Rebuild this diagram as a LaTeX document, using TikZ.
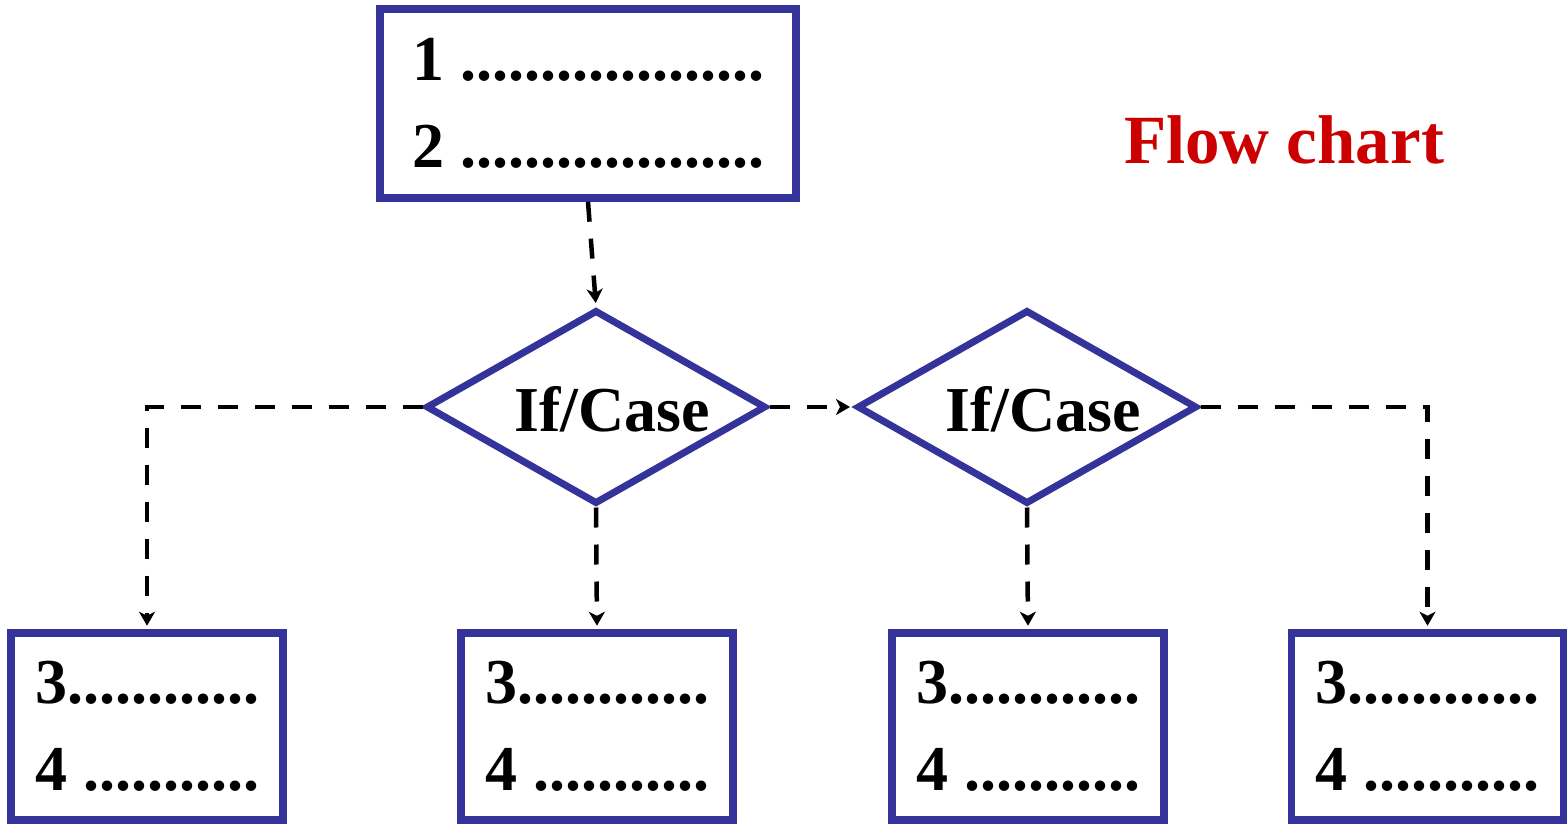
\documentclass[tikz,border=0pt]{standalone}
\usepackage{fontspec}
\setmainfont{Liberation Serif}
\usepackage{tikz}
\usetikzlibrary{arrows.meta,shapes,positioning}
\definecolor{boxblue}{RGB}{51,51,153}
\definecolor{titlered}{RGB}{204,0,0}

\begin{document}
\begin{tikzpicture}[x=0.5pt,y=-0.5pt,
    every node/.style={font=\fontsize{32}{43.5}\selectfont\bfseries},
    stepbox/.style={draw=boxblue,line width=3.75pt,rectangle,align=left,inner sep=0pt},
    testbox/.style={draw=boxblue,line width=3.5pt,diamond,inner sep=0pt,
        minimum width=170pt,minimum height=97pt}]
\useasboundingbox (0,0) rectangle (1567,824);
%draw boxes
    \node[stepbox,minimum width=208pt,minimum height=94.5pt] (top) at (588,103.5)
        {1 ...................\\2 ...................};
    \node[testbox,label={[xshift=8pt,yshift=-1pt]center:If/Case}] (d1) at (596,407) {};
    \node[testbox,label={[xshift=8pt,yshift=-1pt]center:If/Case}] (d2) at (1027,407) {};
    \node[stepbox,minimum width=136pt,minimum height=93.5pt] (b1) at (147,726.5)
        {3............\\4 ...........};
    \node[stepbox,minimum width=136pt,minimum height=93.5pt] (b2) at (597,726.5)
        {3............\\4 ...........};
    \node[stepbox,minimum width=136pt,minimum height=93.5pt] (b3) at (1028,726.5)
        {3............\\4 ...........};
    \node[stepbox,minimum width=136pt,minimum height=93.5pt] (b4) at (1427.5,726.5)
        {3............\\4 ...........};
%insert title
    \node[text=titlered,font=\fontsize{34.5}{40}\selectfont\bfseries] (title) at (1284,140) {Flow chart};
%draw dashed connectors
    \begin{scope}[every path/.style={line width=2.25pt,dash pattern=on 10pt off 8.5pt,
        -{Stealth[length=7pt,width=8pt,inset=2pt]},shorten >=1.75pt}]
       \draw (top.south) -- (d1.north);
       \draw (d1.west) -| (b1.north);
       \draw (d1.south) -- (b2.north);
       \draw (d1.east) -- (d2.west);
       \draw (d2.south) -- (b3.north);
       \draw (d2.east) -| (b4.north);
    \end{scope}
\end{tikzpicture}
\end{document}
